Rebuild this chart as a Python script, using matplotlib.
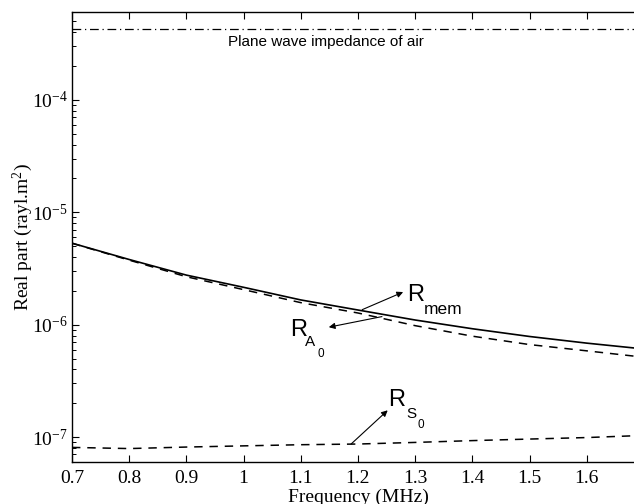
import matplotlib
matplotlib.use("Agg")
import matplotlib.pyplot as plt
import numpy as np

plt.rcParams['mathtext.fontset'] = 'custom'
plt.rcParams['mathtext.rm'] = 'Liberation Serif'
plt.rcParams['mathtext.sf'] = 'Liberation Sans'
plt.rcParams['mathtext.it'] = 'Liberation Serif:italic'
plt.rcParams['font.family'] = 'Liberation Serif'

freq = [0.7, 0.8, 0.9, 1.0, 1.1, 1.2, 1.3, 1.4, 1.5, 1.6, 1.69]
r_mem = [5.31e-6, 3.8e-6, 2.76e-6, 2.15e-6, 1.66e-6, 1.35e-6, 1.10e-6, 9.2e-7, 7.85e-7, 6.85e-7, 6.15e-7]
r_a0 = [5.3e-6, 3.75e-6, 2.67e-6, 2.05e-6, 1.57e-6, 1.27e-6, 9.8e-7, 7.9e-7, 6.65e-7, 5.85e-7, 5.2e-7]
r_s0 = [8.09e-8, 7.9e-8, 8.15e-8, 8.35e-8, 8.55e-8, 8.67e-8, 8.96e-8, 9.3e-8, 9.6e-8, 9.9e-8, 1.03e-7]
air_impedance = 4.3e-4

xticks = [0.7, 0.8, 0.9, 1.0, 1.1, 1.2, 1.3, 1.4, 1.5, 1.6]
xticklabels = ['0.7', '0.8', '0.9', '1', '1.1', '1.2', '1.3', '1.4', '1.5', '1.6']

fig = plt.figure(figsize=(6.34, 5.04), dpi=100)
ax = fig.add_axes([72/634, 42/504, 571.9/634, 450/504])

ax.plot(freq, r_mem, color='black', lw=1.2, ls='-')
ax.plot(freq, r_a0, color='black', lw=1.1, ls=(0, (5.5, 4.5)))
ax.plot(freq, r_s0, color='black', lw=1.1, ls=(0, (5.5, 4.5)))
ax.axhline(air_impedance, color='black', lw=0.9, ls=(0, (7, 3, 1, 3)))

ax.set_yscale('log')
ax.set_xlim(0.7, 1.7)
ax.set_ylim(6e-8, 6.05e-4)
ax.set_xticks(xticks)
ax.set_xticklabels(xticklabels)
ax.set_yticks([1e-7, 1e-6, 1e-5, 1e-4])
ax.set_yticklabels([r'$10^{-7}$', r'$10^{-6}$', r'$10^{-5}$', r'$10^{-4}$'])
ax.tick_params(axis='both', which='major', direction='in', length=5, width=0.8,
               top=True, labelsize=14)
ax.tick_params(axis='x', which='major', pad=6)
ax.tick_params(axis='y', which='major', pad=3)
ax.tick_params(axis='y', which='minor', direction='in', length=3, width=0.7)
ax.tick_params(axis='x', which='minor', bottom=False, top=False)
for s in ax.spines.values():
    s.set_linewidth(1.0)

ax.set_xlabel('Frequency (MHz)', fontsize=14, labelpad=1)
ax.set_ylabel(r'Real part (rayl.m$^2$)', fontsize=14, labelpad=-2)

ax.text(0.972, 3.3e-4, 'Plane wave impedance of air', family='Liberation Sans',
        fontsize=11, ha='left', va='center')

arrowprops = dict(arrowstyle='-|>', color='black', lw=0.8, mutation_scale=9, shrinkA=0, shrinkB=0)
ax.annotate('', xy=(1.279, 1.95e-6), xytext=(1.2075, 1.36e-6), arrowprops=arrowprops)
ax.annotate('', xy=(1.149, 9.5e-7), xytext=(1.242, 1.18e-6), arrowprops=arrowprops)
ax.annotate('', xy=(1.252, 1.73e-7), xytext=(1.188, 8.67e-8), arrowprops=arrowprops)

sans = 'Liberation Sans'
# R_mem
ax.text(1.2858, 1.834e-6, 'R', family=sans, fontsize=17, ha='left', va='center')
ax.text(1.3155, 1.364e-6, 'mem', family=sans, fontsize=12.5, ha='left', va='center')
# R_A0
ax.text(1.0812, 9.0e-7, 'R', family=sans, fontsize=17, ha='left', va='center')
ax.text(1.1074, 7.02e-7, 'A', family=sans, fontsize=11, ha='left', va='center')
ax.text(1.1284, 5.50e-7, '0', family=sans, fontsize=8.5, ha='left', va='center')
# R_S0
ax.text(1.2525, 2.15e-7, 'R', family=sans, fontsize=17, ha='left', va='center')
ax.text(1.284, 1.60e-7, 'S', family=sans, fontsize=11, ha='left', va='center')
ax.text(1.3033, 1.28e-7, '0', family=sans, fontsize=8.5, ha='left', va='center')

fig.savefig('out.png', dpi=100)
